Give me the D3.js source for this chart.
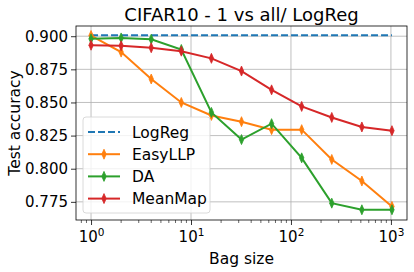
<!DOCTYPE html>
<html>
<head>
<meta charset="utf-8">
<script src="https://cdn.jsdelivr.net/npm/d3@7"></script>
<style>
  body { margin: 0; background: #fff; }
  text { font-family: "DejaVu Sans", sans-serif; fill: #000; }
</style>
</head>
<body>
<div id="chart"></div>
<script>
var bagSizes = [1, 2, 4, 8, 16, 32, 64, 128, 256, 512, 1024];
var logRegAcc = 0.9008;
var easyLLP = [0.9005, 0.888, 0.8677, 0.850, 0.8402, 0.8355, 0.8295, 0.8295, 0.807, 0.7907, 0.7715];
var daAcc = [0.898, 0.8987, 0.8977, 0.890, 0.8425, 0.822, 0.834, 0.8082, 0.774, 0.769, 0.769];
var meanMap = [0.8932, 0.8928, 0.8913, 0.8887, 0.8833, 0.8737, 0.8595, 0.847, 0.8387, 0.8315, 0.8287];
var yTicks = [0.775, 0.800, 0.825, 0.850, 0.875, 0.900];
var xTicks = [1, 10, 100, 1000];

var width = 414, height = 272;
var margin = {left: 76, right: 7, top: 26, bottom: 52};

var svg = d3.select("#chart").append("svg")
  .attr("width", width)
  .attr("height", height);

var x = d3.scaleLog()
  .domain([Math.pow(10, -0.1505), Math.pow(10, 3.1608)])
  .range([margin.left, width - margin.right]);
var y = d3.scaleLinear()
  .domain([0.7613, 0.9077])
  .range([height - margin.bottom, margin.top]);

// grid
var grid = svg.append("g");
xTicks.forEach(function(t) {
  grid.append("line")
    .attr("x1", x(t)).attr("x2", x(t))
    .attr("y1", y.range()[0]).attr("y2", y.range()[1])
    .attr("stroke", "#b0b0b0").attr("stroke-width", 0.8);
});
yTicks.forEach(function(t) {
  grid.append("line")
    .attr("x1", x.range()[0]).attr("x2", x.range()[1])
    .attr("y1", y(t)).attr("y2", y(t))
    .attr("stroke", "#b0b0b0").attr("stroke-width", 0.8);
});

// minor ticks on the log axis
var minor = [];
for (var d = 0.1; d <= 1000; d *= 10) {
  for (var k = 2; k <= 9; k++) {
    var v = Math.round(d * k * 1000) / 1000;
    if (v > x.domain()[0] && v < x.domain()[1]) minor.push(v);
  }
}
svg.append("g").selectAll("line").data(minor).enter().append("line")
  .attr("x1", function(d) { return x(d); }).attr("x2", function(d) { return x(d); })
  .attr("y1", y.range()[0]).attr("y2", y.range()[0] + 3)
  .attr("stroke", "#000").attr("stroke-width", 0.6);

// x axis
var xAxis = svg.append("g")
  .attr("transform", "translate(0," + y.range()[0] + ")")
  .call(d3.axisBottom(x).tickValues(xTicks).tickSize(5).tickFormat(""));
xAxis.select(".domain").remove();
xAxis.selectAll(".tick line").attr("stroke-width", 0.8);
xAxis.selectAll(".tick").append("text")
  .attr("y", 22)
  .attr("text-anchor", "middle")
  .style("font-size", "15px")
  .each(function(d) {
    var t = d3.select(this);
    t.append("tspan").text("10");
    t.append("tspan").attr("dy", -6).style("font-size", "10.5px").text(Math.round(Math.log10(d)));
  });

// y axis
var yAxis = svg.append("g")
  .attr("transform", "translate(" + x.range()[0] + ",0)")
  .call(d3.axisLeft(y).tickValues(yTicks).tickSize(5).tickPadding(3).tickFormat(d3.format(".3f")));
yAxis.select(".domain").remove();
yAxis.selectAll(".tick line").attr("stroke-width", 0.8);
yAxis.selectAll(".tick text")
  .style("font-size", "15px")
  .style("font-family", "DejaVu Sans, sans-serif")
  .attr("fill", "#000");

// frame
svg.append("rect")
  .attr("x", x.range()[0]).attr("y", y.range()[1])
  .attr("width", x.range()[1] - x.range()[0])
  .attr("height", y.range()[0] - y.range()[1])
  .attr("fill", "none").attr("stroke", "#000").attr("stroke-width", 0.8);

// series
var series = [
  {name: "EasyLLP", values: easyLLP, color: "#ff7f0e"},
  {name: "DA", values: daAcc, color: "#2ca02c"},
  {name: "MeanMap", values: meanMap, color: "#d62728"}
];

svg.append("line")
  .attr("x1", x(bagSizes[0])).attr("x2", x(bagSizes[bagSizes.length - 1]))
  .attr("y1", y(logRegAcc)).attr("y2", y(logRegAcc))
  .attr("stroke", "#1f77b4").attr("stroke-width", 2)
  .attr("stroke-dasharray", "7,3");

var line = d3.line()
  .x(function(d, i) { return x(bagSizes[i]); })
  .y(function(d) { return y(d); });

// thin diamond marker
function diamond(g, cx, cy, color) {
  g.append("path")
    .attr("d", "M" + cx + "," + (cy - 5) + "L" + (cx + 2.2) + "," + cy + "L" + cx + "," + (cy + 5) + "L" + (cx - 2.2) + "," + cy + "Z")
    .attr("fill", color).attr("stroke", color).attr("stroke-width", 0.8);
}

series.forEach(function(s) {
  var g = svg.append("g");
  g.append("path")
    .datum(s.values)
    .attr("d", line)
    .attr("fill", "none")
    .attr("stroke", s.color)
    .attr("stroke-width", 2);
  s.values.forEach(function(v, i) {
    diamond(g, x(bagSizes[i]), y(v), s.color);
  });
});

// legend
var legendItems = [{name: "LogReg", color: "#1f77b4", dashed: true}].concat(series);
var lg = svg.append("g").attr("transform", "translate(83,117)");
lg.append("rect")
  .attr("width", 127).attr("height", 96).attr("rx", 3)
  .attr("fill", "#fff").attr("fill-opacity", 0.8)
  .attr("stroke", "#d0d0d0").attr("stroke-width", 0.8);
legendItems.forEach(function(item, i) {
  var cy = 15 + i * 22.2;
  lg.append("line")
    .attr("x1", 5).attr("x2", 37).attr("y1", cy).attr("y2", cy)
    .attr("stroke", item.color).attr("stroke-width", 2)
    .attr("stroke-dasharray", item.dashed ? "7,3" : null);
  if (!item.dashed) diamond(lg, 21, cy, item.color);
  lg.append("text")
    .attr("x", 49).attr("y", cy + 5.5)
    .style("font-size", "15.5px")
    .text(item.name);
});

// title and labels
svg.append("text")
  .attr("x", (x.range()[0] + x.range()[1]) / 2).attr("y", 21)
  .attr("text-anchor", "middle")
  .style("font-size", "18px")
  .text("CIFAR10 - 1 vs all/ LogReg");

svg.append("text")
  .attr("x", (x.range()[0] + x.range()[1]) / 2).attr("y", 264)
  .attr("text-anchor", "middle")
  .style("font-size", "15.5px")
  .text("Bag size");

svg.append("text")
  .attr("transform", "translate(20," + ((y.range()[0] + y.range()[1]) / 2) + ") rotate(-90)")
  .attr("text-anchor", "middle")
  .style("font-size", "15.5px")
  .text("Test accuracy");
</script>
</body>
</html>
